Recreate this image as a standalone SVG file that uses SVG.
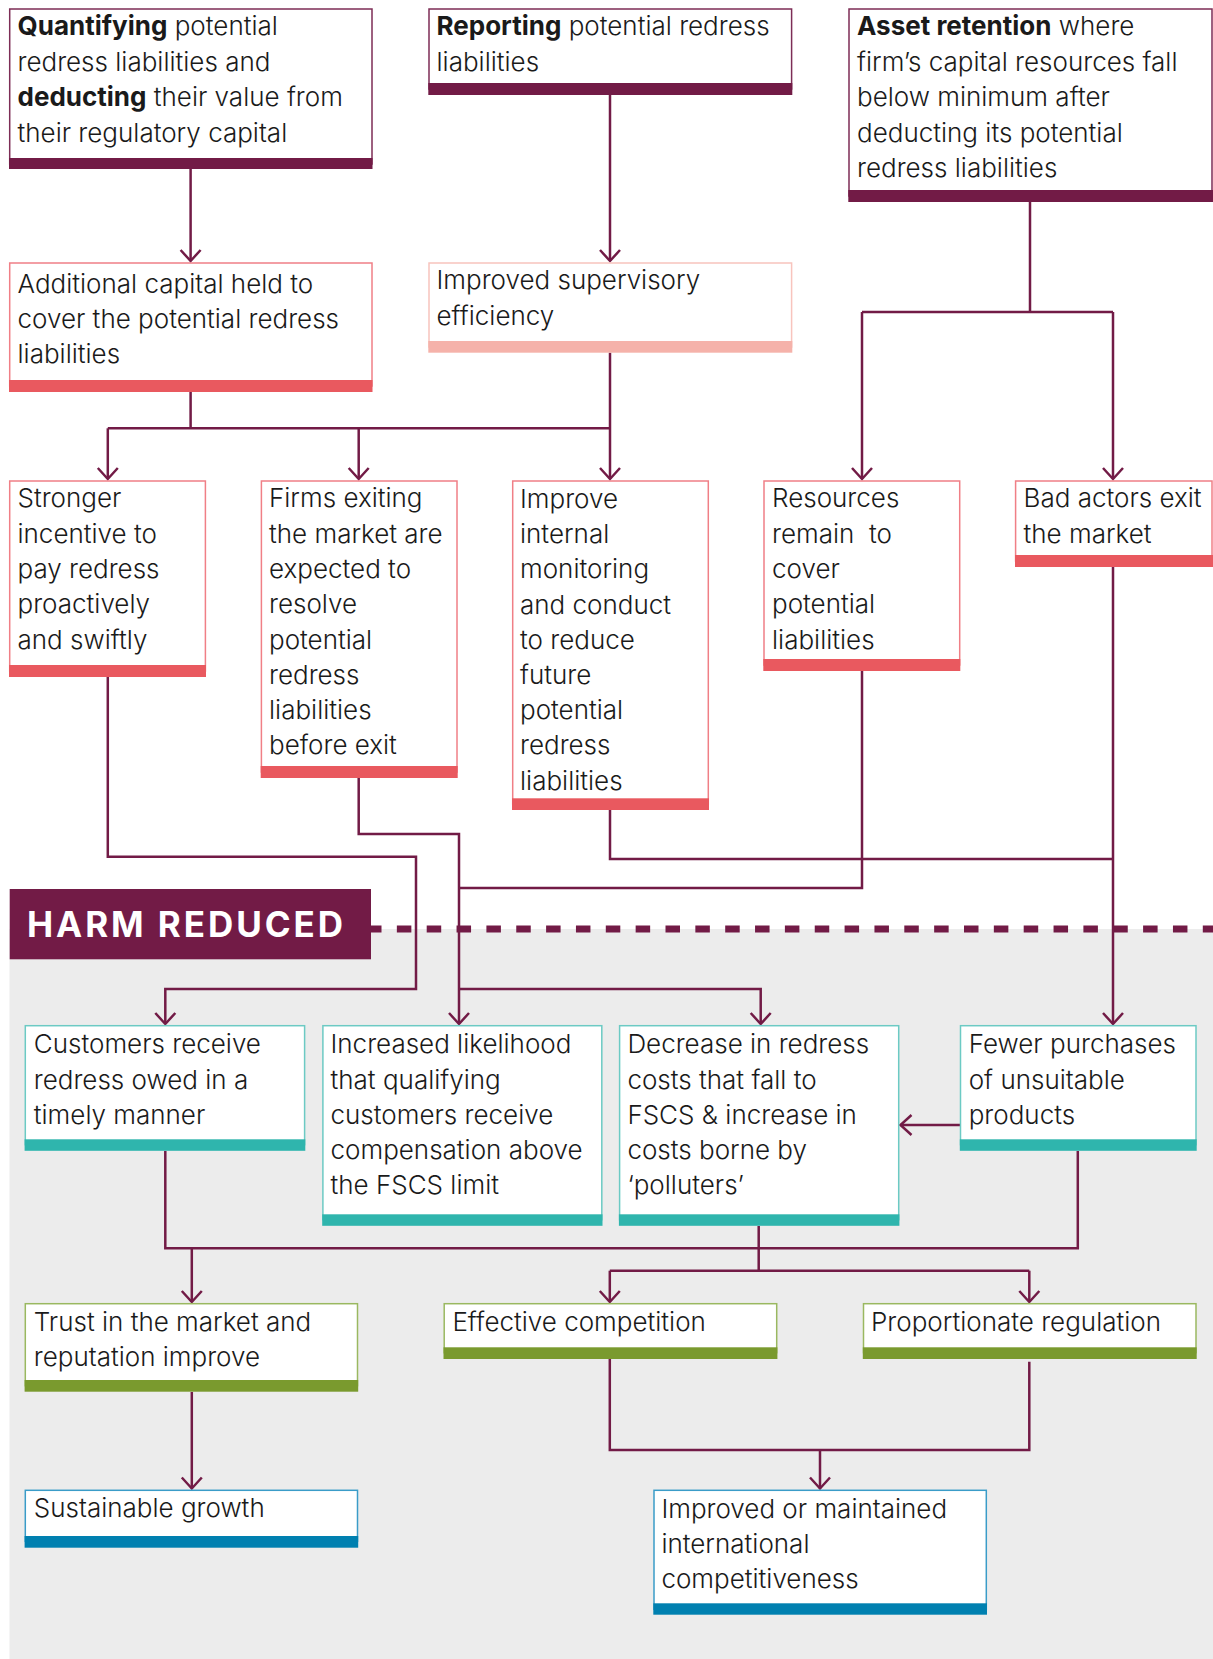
<svg xmlns="http://www.w3.org/2000/svg" width="1213" height="1659" viewBox="0 0 1213 1659">
<defs>
<style>
text{font-family:Inter,Lato,"Liberation Sans",sans-serif;font-weight:300;font-size:26px;fill:#1a1a1a}
.b{font-weight:700}
.harm{font-weight:700;font-size:35px;fill:#ffffff}
.box{fill:#ffffff;stroke-width:1.5}
.pb{stroke:#7d2d56}.pf{fill:#721b46}
.rb{stroke:#f07f86}.rf{fill:#e9595f}
.sb{stroke:#f8c4bd}.sf{fill:#f5b2aa}
.tb{stroke:#6ccac4}.tf{fill:#2fb5ad}
.gb{stroke:#9ab860}.gf{fill:#7a9a2e}
.bb{stroke:#3a9cc8}.bf{fill:#0080b0}
.con path{fill:none;stroke:#721b46;stroke-width:2.5}
.arr{marker-end:url(#ah)}
</style>
<marker id="ah" markerUnits="userSpaceOnUse" viewBox="-14 -12 16 24" refX="0" refY="0" markerWidth="16" markerHeight="24" orient="auto" overflow="visible">
<path d="M-11,-10 L0,0 L-11,10" fill="none" stroke="#721b46" stroke-width="2.5"/>
</marker>
</defs>
<rect x="0" y="0" width="1213" height="1659" fill="#ffffff"/>
<rect x="9.5" y="929" width="1203.5" height="730" fill="#ececec"/>
<line x1="367" y1="929" x2="1213" y2="929" stroke="#721b46" stroke-width="7" stroke-dasharray="14.5 15.35"/>
<g id="harm-reduced">
<rect x="9.7" y="889" width="361.3" height="70.3" fill="#721b46"/>
<text class="harm" x="27" y="936.7" textLength="316" lengthAdjust="spacing">HARM REDUCED</text>
</g>
<g id="connectors" class="con">
<path class="arr" d="M190.6,169 V261"/>
<path class="arr" d="M610,95 V261"/>
<path class="arr" d="M610,352.7 V479"/>
<path d="M190.6,392 V428.3 M107.8,428.3 H610"/>
<path class="arr" d="M107.8,428.3 V479"/>
<path class="arr" d="M358.7,428.3 V479"/>
<path d="M1030,202 V312 M862,312 H1113"/>
<path class="arr" d="M862,312 V479"/>
<path class="arr" d="M1113,312 V479"/>
<path class="arr" d="M107.8,677 V856.7 H416 V989 H165.3 V1024"/>
<path class="arr" d="M358.7,778 V834 H459 V1024"/>
<path class="arr" d="M459,989 H760.7 V1024"/>
<path d="M610,810 V859 H1113"/>
<path d="M862,671 V888 H459"/>
<path class="arr" d="M1113,567 V1024"/>
<path class="arr" d="M960.5,1125 H900.5"/>
<path d="M165.3,1151 V1248.3 H1077.8 V1151"/>
<path class="arr" d="M191.8,1248.3 V1302"/>
<path d="M758.7,1226 V1270.7 M609.8,1270.7 H1029.3"/>
<path class="arr" d="M609.8,1270.7 V1302"/>
<path class="arr" d="M1029.3,1270.7 V1302"/>
<path class="arr" d="M191.8,1392 V1488.5"/>
<path d="M609.8,1359 V1450 H1029.3 V1361.7"/>
<path class="arr" d="M820,1450 V1488.5"/>
</g>
<g id="quantifying">
<rect class="box pb" x="9.7" y="9" width="362.3" height="155"/>
<rect class="pf" x="9" y="158" width="363.5" height="11"/>
<text x="17.5" y="35"><tspan class="b">Quantifying</tspan> potential</text>
<text x="17.5" y="70.5">redress liabilities and</text>
<text x="17.5" y="106"><tspan class="b">deducting</tspan> their value from</text>
<text x="17.5" y="141.5">their regulatory capital</text>
</g>
<g id="reporting">
<rect class="box pb" x="429" y="9" width="362.6" height="80"/>
<rect class="pf" x="428.3" y="83" width="364" height="12"/>
<text x="436.5" y="35"><tspan class="b">Reporting</tspan> potential redress</text>
<text x="436.5" y="70.5">liabilities</text>
</g>
<g id="asset-retention">
<rect class="box pb" x="849" y="9" width="363" height="187"/>
<rect class="pf" x="848.3" y="190" width="364.7" height="12"/>
<text x="857" y="35"><tspan class="b">Asset retention</tspan> where</text>
<text x="857" y="70.5">firm’s capital resources fall</text>
<text x="857" y="106">below minimum after</text>
<text x="857" y="141.5">deducting its potential</text>
<text x="857" y="177">redress liabilities</text>
</g>
<g id="additional-capital">
<rect class="box rb" x="9.7" y="263" width="362.3" height="123"/>
<rect class="rf" x="9" y="380" width="363.5" height="12"/>
<text x="17.5" y="293">Additional capital held to</text>
<text x="17.5" y="328">cover the potential redress</text>
<text x="17.5" y="363">liabilities</text>
</g>
<g id="supervisory-efficiency">
<rect class="box sb" x="429" y="263" width="362.6" height="84"/>
<rect class="sf" x="428.3" y="341" width="364" height="11.7"/>
<text x="436.5" y="289">Improved supervisory</text>
<text x="436.5" y="324.5">efficiency</text>
</g>
<g id="stronger-incentive">
<rect class="box rb" x="9.7" y="481" width="195.7" height="190"/>
<rect class="rf" x="9" y="665" width="197" height="12"/>
<text x="17.5" y="507.3">Stronger</text>
<text x="17.5" y="542.6">incentive to</text>
<text x="17.5" y="577.9">pay redress</text>
<text x="17.5" y="613.2">proactively</text>
<text x="17.5" y="648.5">and swiftly</text>
</g>
<g id="firms-exiting">
<rect class="box rb" x="261.4" y="481" width="195.6" height="291"/>
<rect class="rf" x="260.7" y="766" width="197" height="12"/>
<text x="269" y="507.3">Firms exiting</text>
<text x="269" y="542.6">the market are</text>
<text x="269" y="577.9">expected to</text>
<text x="269" y="613.2">resolve</text>
<text x="269" y="648.5">potential</text>
<text x="269" y="683.8">redress</text>
<text x="269" y="719.1">liabilities</text>
<text x="269" y="754.4">before exit</text>
</g>
<g id="improve-monitoring">
<rect class="box rb" x="512.7" y="481" width="195.6" height="323"/>
<rect class="rf" x="512" y="798.3" width="197" height="11.7"/>
<text x="520" y="508">Improve</text>
<text x="520" y="543.2">internal</text>
<text x="520" y="578.4">monitoring</text>
<text x="520" y="613.6">and conduct</text>
<text x="520" y="648.8">to reduce</text>
<text x="520" y="684">future</text>
<text x="520" y="719.2">potential</text>
<text x="520" y="754.4">redress</text>
<text x="520" y="789.6">liabilities</text>
</g>
<g id="resources-remain">
<rect class="box rb" x="764" y="481" width="195.7" height="184"/>
<rect class="rf" x="763.3" y="659" width="197" height="12"/>
<text x="772" y="507.3">Resources</text>
<text x="772" y="542.6">remain&#160; to</text>
<text x="772" y="577.9">cover</text>
<text x="772" y="613.2">potential</text>
<text x="772" y="648.5">liabilities</text>
</g>
<g id="bad-actors">
<rect class="box rb" x="1015.6" y="481" width="196.4" height="80"/>
<rect class="rf" x="1015" y="555" width="198" height="12"/>
<text x="1023.5" y="507.3">Bad actors exit</text>
<text x="1023.5" y="542.6">the market</text>
</g>
<g id="customers-redress">
<rect class="box tb" x="25.3" y="1025.7" width="279.3" height="119"/>
<rect class="tf" x="24.6" y="1139.3" width="280.7" height="11.5"/>
<text x="33.8" y="1053.3">Customers receive</text>
<text x="33.8" y="1088.5">redress owed in a</text>
<text x="33.8" y="1123.7">timely manner</text>
</g>
<g id="increased-likelihood">
<rect class="box tb" x="322.9" y="1025.7" width="278.9" height="194"/>
<rect class="tf" x="322.2" y="1214.3" width="280.3" height="11.5"/>
<text x="330.5" y="1053.3">Increased likelihood</text>
<text x="330.5" y="1088.5">that qualifying</text>
<text x="330.5" y="1123.7">customers receive</text>
<text x="330.5" y="1158.9">compensation above</text>
<text x="330.5" y="1194.1">the FSCS limit</text>
</g>
<g id="decrease-redress-costs">
<rect class="box tb" x="619.6" y="1025.7" width="279.1" height="194"/>
<rect class="tf" x="618.9" y="1214.3" width="280.5" height="11.5"/>
<text x="627.4" y="1053.3">Decrease in redress</text>
<text x="627.4" y="1088.5">costs that fall to</text>
<text x="627.4" y="1123.7">FSCS &amp; increase in</text>
<text x="627.4" y="1158.9">costs borne by</text>
<text x="627.4" y="1194.1">‘polluters’</text>
</g>
<g id="fewer-purchases">
<rect class="box tb" x="960.5" y="1025.7" width="235.5" height="119"/>
<rect class="tf" x="959.8" y="1139.3" width="236.9" height="11.5"/>
<text x="968.7" y="1053.3">Fewer purchases</text>
<text x="968.7" y="1088.5">of unsuitable</text>
<text x="968.7" y="1123.7">products</text>
</g>
<g id="trust-reputation">
<rect class="box gb" x="25.3" y="1303.7" width="332.2" height="82"/>
<rect class="gf" x="24.6" y="1380" width="333.6" height="11.7"/>
<text x="33.8" y="1330.7">Trust in the market and</text>
<text x="33.8" y="1365.9">reputation improve</text>
</g>
<g id="effective-competition">
<rect class="box gb" x="444.2" y="1303.7" width="332.5" height="49"/>
<rect class="gf" x="443.5" y="1347.3" width="333.9" height="11.7"/>
<text x="452.4" y="1330.7">Effective competition</text>
</g>
<g id="proportionate-regulation">
<rect class="box gb" x="863.5" y="1303.7" width="332.5" height="49"/>
<rect class="gf" x="862.8" y="1347.3" width="333.9" height="11.7"/>
<text x="871" y="1330.7">Proportionate regulation</text>
</g>
<g id="sustainable-growth">
<rect class="box bb" x="25.3" y="1490.3" width="332.2" height="51"/>
<rect class="bf" x="24.6" y="1536" width="333.6" height="11.7"/>
<text x="33.8" y="1517.3">Sustainable growth</text>
</g>
<g id="international-competitiveness">
<rect class="box bb" x="654" y="1490.3" width="332.3" height="119"/>
<rect class="bf" x="653.3" y="1603.3" width="333.7" height="11.4"/>
<text x="661.4" y="1518">Improved or maintained</text>
<text x="661.4" y="1553.2">international</text>
<text x="661.4" y="1588.4">competitiveness</text>
</g>
</svg>
